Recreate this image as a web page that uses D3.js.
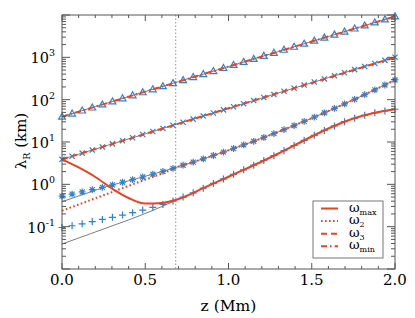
<!DOCTYPE html>
<html>
<head>
<meta charset="utf-8">
<script src="https://cdn.jsdelivr.net/npm/d3@7"></script>
<style>
  body { margin: 0; background: #fff; }
</style>
</head>
<body>
<svg width="415" height="318"></svg>
<script>
// line samples every 0.1 Mm, markers on a finer grid
const zLine = [0.0, 0.1, 0.2, 0.3, 0.4, 0.5, 0.6, 0.7, 0.8, 0.9, 1.0,
  1.1, 1.2, 1.3, 1.4, 1.5, 1.6, 1.7, 1.8, 1.9, 2.0];
const zMark = [0, 0.0606, 0.1212, 0.1818, 0.2424, 0.3030, 0.3636, 0.4242,
  0.4848, 0.5455, 0.6061, 0.6667, 0.7273, 0.7879, 0.8485, 0.9091, 0.9697,
  1.0303, 1.0909, 1.1515, 1.2121, 1.2727, 1.3333, 1.3939, 1.4545, 1.5152,
  1.5758, 1.6364, 1.6970, 1.7576, 1.8182, 1.8788, 1.9394, 2.0];

// black reference curves
const refMin = [39.6, 52.0, 68.4, 89.8, 118, 155, 203, 267, 351, 461, 605,
  795, 1044, 1371, 1802, 2366, 3106, 4083, 5358, 7047, 9247];
const ref3 = [3.90, 5.15, 6.79, 8.97, 11.8, 15.6, 20.6, 27.2, 35.9, 47.4, 62.5,
  82.6, 109, 144, 190, 251, 330, 436, 575, 760, 1002];
const ref2 = [0.389, 0.530, 0.723, 0.964, 1.21, 1.55, 2.00, 2.62, 3.48, 4.67,
  6.37, 8.78, 12.3, 17.4, 25.1, 36.5, 53.7, 80.7, 122, 188, 292];
const refMax = [0.0389, 0.0539, 0.0748, 0.104, 0.144, 0.205, 0.299, 0.450,
  0.659, 1.01, 1.51, 2.29, 3.46, 5.35, 8.49, 13.5, 20.8, 30.5, 41.1, 51.1, 59.3];

// red curves
const wMin = [39.6, 52.0, 68.4, 89.8, 118, 155, 203, 267, 351, 461, 605,
  795, 1044, 1371, 1802, 2366, 3106, 4083, 5358, 7047, 9247];
const w3 = [3.90, 5.15, 6.79, 8.97, 11.8, 15.6, 20.6, 27.2, 35.9, 47.4, 62.5,
  82.6, 109, 144, 190, 251, 330, 436, 575, 760, 1002];
const w2 = [0.238, 0.334, 0.468, 0.655, 0.918, 1.29, 1.80, 2.62, 3.48, 4.67,
  6.37, 8.78, 12.3, 17.4, 25.1, 36.5, 53.7, 80.7, 122, 188, 292];
const wMax = [3.90, 2.50, 1.49, 0.797, 0.475, 0.352, 0.362, 0.450, 0.659, 1.01,
  1.51, 2.29, 3.46, 5.35, 8.49, 13.5, 20.8, 30.5, 41.1, 51.1, 59.3];

// blue markers
const triMarks = [39.6, 46.8, 55.2, 65.0, 76.7, 90.6, 107, 126, 149, 175, 207,
  244, 288, 340, 401, 472, 557, 658, 776, 914, 1079, 1274, 1503, 1770, 2089,
  2466, 2911, 3428, 4046, 4775, 5636, 6637, 7834, 9247];
const crossMarks = [3.90, 4.61, 5.46, 6.46, 7.64, 9.04, 10.7, 12.6, 15.0, 17.7,
  20.9, 24.8, 29.3, 34.7, 41.0, 48.5, 57.4, 67.9, 80.4, 95.2, 113, 133, 158,
  187, 221, 261, 309, 366, 432, 512, 605, 716, 847, 1002];
const starMarks = [0.525, 0.588, 0.662, 0.747, 0.851, 0.970, 1.12, 1.29, 1.49,
  1.73, 2.03, 2.39, 2.83, 3.35, 4.01, 4.80, 5.77, 7.02, 8.53, 10.4, 12.8, 15.8,
  19.6, 24.5, 30.7, 38.7, 49.0, 62.2, 79.4, 102, 132, 171, 222, 292];
const plusMarks = [0.0955, 0.105, 0.117, 0.132, 0.148, 0.166, 0.188, 0.214,
  0.246, 0.285, 0.334, 0.404, 0.499, 0.631, 0.811, 1.05, 1.34, 1.72, 2.20, 2.83,
  3.66, 4.75, 6.23, 8.26, 10.9, 14.4, 18.8, 24.0, 30.2, 36.3, 42.7, 49.0, 54.3,
  59.3];

const xTicks = [0.0, 0.5, 1.0, 1.5, 2.0];
const yTickExp = [-1, 0, 1, 2, 3];
const zMarker = 0.683;
const legendNames = ["max", "2", "3", "min"];

const serif = "DejaVu Serif, Liberation Serif, serif";
const svg = d3.select("svg").style("font-family", serif);
const pLeft = 62, pRight = 395, pTop = 15, pBottom = 269;
const red = "#f0401e", blue = "#2f82d0", frame = "#555";

const x = d3.scaleLinear().domain([0, 2]).range([pLeft, pRight]);
const y = d3.scaleLog().domain([1e-2, 1e4]).range([pBottom, pTop]);

// vertical marker line
svg.append("line")
  .attr("x1", x(zMarker)).attr("x2", x(zMarker))
  .attr("y1", pTop).attr("y2", pBottom)
  .attr("stroke", "#777").attr("stroke-width", 0.8)
  .attr("stroke-dasharray", "1.5,2");

const line = d3.line()
  .x(d => x(d[0]))
  .y(d => y(d[1]))
  .curve(d3.curveMonotoneX);

// black curves
[refMin, ref3, ref2, refMax].forEach(vals => {
  svg.append("path")
    .attr("d", line(d3.zip(zLine, vals)))
    .attr("fill", "none")
    .attr("stroke", "#444")
    .attr("stroke-width", 0.7);
});

// blue markers
const shapes = [
  { vals: triMarks, d: "M0,-3.6L3.4,2.4L-3.4,2.4Z" },
  { vals: crossMarks, d: "M-2.6,-2.6L2.6,2.6M-2.6,2.6L2.6,-2.6" },
  { vals: starMarks, d: "M-3.4,0L3.4,0M0,-3.4L0,3.4M-2.5,-2.5L2.5,2.5M-2.5,2.5L2.5,-2.5" },
  { vals: plusMarks, d: "M-3.5,0L3.5,0M0,-3.5L0,3.5" },
];
shapes.forEach(s => {
  svg.append("g")
    .selectAll("path")
    .data(d3.zip(zMark, s.vals))
    .join("path")
    .attr("transform", d => `translate(${x(d[0])},${y(d[1])})`)
    .attr("d", s.d)
    .attr("fill", "none")
    .attr("stroke", blue)
    .attr("stroke-width", 1.2);
});

// red curves
const dashes = ["none", "1.6,2.4", "6,4", "6,3,1.6,3"];
[wMax, w2, w3, wMin].forEach((vals, i) => {
  svg.append("path")
    .attr("d", line(d3.zip(zLine, vals)))
    .attr("fill", "none")
    .attr("stroke", red)
    .attr("stroke-width", 2)
    .attr("stroke-dasharray", dashes[i]);
});

// frame
svg.append("rect")
  .attr("x", pLeft).attr("y", pTop)
  .attr("width", pRight - pLeft).attr("height", pBottom - pTop)
  .attr("fill", "none").attr("stroke", frame).attr("stroke-width", 1);

// x ticks, bottom and top
const xMinor = d3.range(0, 21).map(i => i / 10);
[[pBottom, -1], [pTop, 1]].forEach(([yy, dir]) => {
  svg.append("g").selectAll("line")
    .data(xMinor)
    .join("line")
    .attr("x1", d => x(d)).attr("x2", d => x(d))
    .attr("y1", yy)
    .attr("y2", d => yy + dir * (xTicks.some(t => Math.abs(t - d) < 1e-9) ? 6 : 3))
    .attr("stroke", frame);
});

svg.append("g").selectAll("text")
  .data(xTicks)
  .join("text")
  .attr("x", d => x(d))
  .attr("y", 285)
  .attr("text-anchor", "middle")
  .style("font-family", serif)
  .attr("font-size", 15)
  .text(d3.format(".1f"));

// y ticks, left and right
const yMinor = [];
for (let e = -2; e < 4; e++) {
  for (let m = 1; m < 10; m++) yMinor.push(m * Math.pow(10, e));
}
yMinor.push(1e4);
[[pLeft, 1], [pRight, -1]].forEach(([xx, dir]) => {
  svg.append("g").selectAll("line")
    .data(yMinor)
    .join("line")
    .attr("y1", d => y(d)).attr("y2", d => y(d))
    .attr("x1", xx)
    .attr("x2", d => {
      const major = Math.abs(Math.log10(d) - Math.round(Math.log10(d))) < 1e-9;
      return xx + dir * (major ? 8 : 4);
    })
    .attr("stroke", frame);
});

const yLab = svg.append("g").selectAll("text")
  .data(yTickExp)
  .join("text")
  .attr("x", 55)
  .attr("y", d => y(Math.pow(10, d)) + 6)
  .attr("text-anchor", "end")
  .style("font-family", serif)
  .attr("font-size", 14.5);
yLab.append("tspan").text("10");
yLab.append("tspan")
  .attr("dy", -7)
  .attr("font-size", 9.5)
  .text(d => d < 0 ? "-" + Math.abs(d) : d);

// axis titles
svg.append("text")
  .attr("x", x(1))
  .attr("y", 311)
  .attr("text-anchor", "middle")
  .style("font-family", serif)
  .attr("font-size", 15.5)
  .text("z (Mm)");

const yTitle = svg.append("text")
  .attr("transform", "translate(26,141) rotate(-90)")
  .attr("text-anchor", "middle")
  .style("font-family", serif)
  .attr("font-size", 15);
yTitle.append("tspan").text("λ");
yTitle.append("tspan").attr("dy", 4).attr("font-size", 9.5).text("R");
yTitle.append("tspan").attr("dy", -4).text(" (km)");

// legend
const lg = svg.append("g");
lg.append("rect")
  .attr("x", 313).attr("y", 201)
  .attr("width", 70).attr("height", 57)
  .attr("fill", "#fff").attr("stroke", "#777").attr("stroke-width", 1);

legendNames.forEach((name, i) => {
  const yy = 208.5 + i * 12.6;
  lg.append("line")
    .attr("x1", 321).attr("x2", 338)
    .attr("y1", yy).attr("y2", yy)
    .attr("stroke", red).attr("stroke-width", 2)
    .attr("stroke-dasharray", dashes[i]);
  const t = lg.append("text")
    .attr("x", 349).attr("y", yy + 3)
    .style("font-family", serif)
    .attr("font-size", 13);
  t.append("tspan").text("ω");
  t.append("tspan").attr("dy", 3).attr("font-size", 8).text(name);
});
</script>
</body>
</html>
